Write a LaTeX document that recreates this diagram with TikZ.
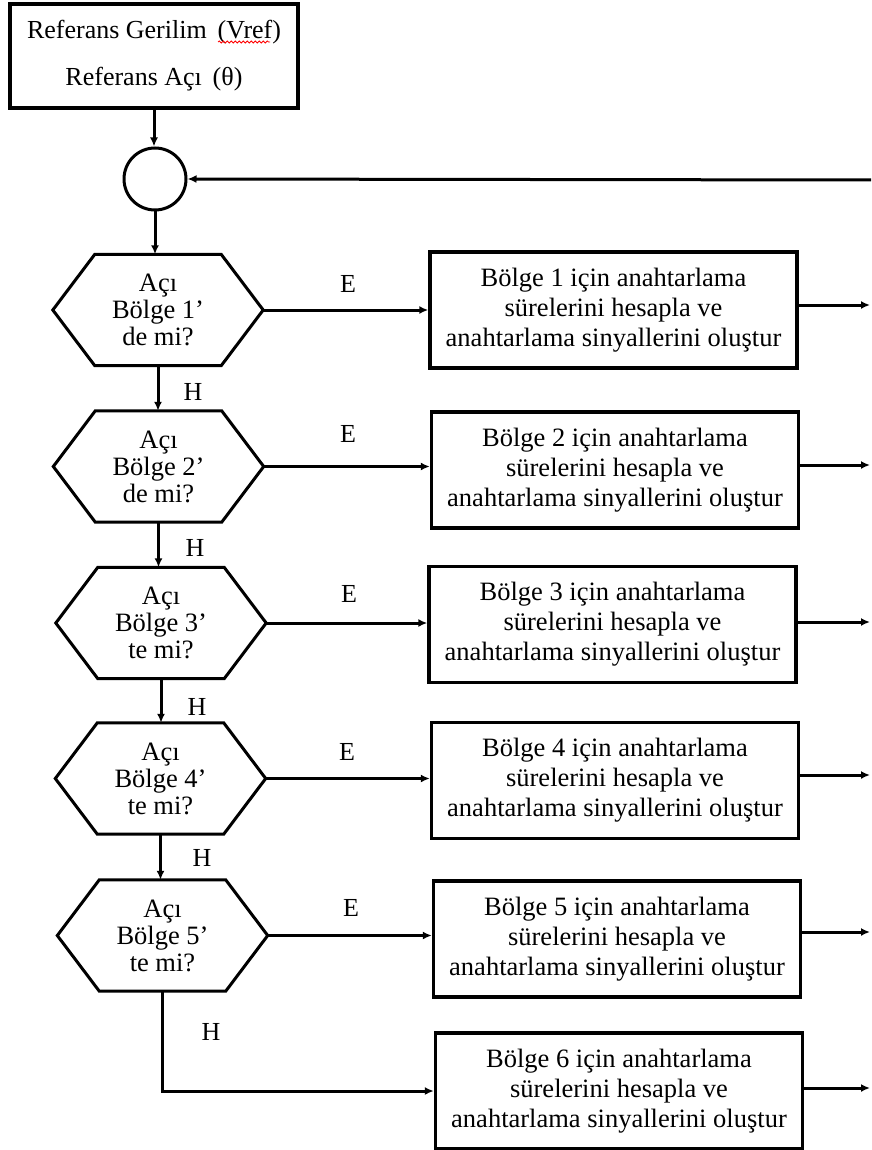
\documentclass[tikz,border=0pt]{standalone}
\usepackage{fontspec}
\setmainfont{Liberation Serif}
\usetikzlibrary{arrows.meta,decorations.pathmorphing}

% outline of a decision hexagon drawn round a named node
\newcommand\hexoutline[1]{%
  \draw[line width=3pt,line join=miter]
    (#1.west) -- ([xshift=42pt]#1.north west) -- ([xshift=-42pt]#1.north east)
    -- (#1.east) -- ([xshift=-42pt]#1.south east) -- ([xshift=42pt]#1.south west) -- cycle;}

\begin{document}
\begin{tikzpicture}[x=1pt,y=-1pt,
  every node/.style={font=\fontsize{26}{30}\selectfont},
  conn/.style={line width=3pt,-{Latex[length=9pt,width=8pt]}},
  stepbox/.style={draw,line width=3.4pt,minimum width=367pt,minimum height=116pt,
                  align=center,inner sep=0pt,font=\fontsize{26.5}{30}\selectfont},
  hexnode/.style={minimum width=210pt,minimum height=111pt,align=center,
                  inner sep=0pt,font=\fontsize{26.5}{27}\selectfont},
  lbl/.style={inner sep=0pt}
]
\useasboundingbox (0,0) rectangle (871,1150);

% reference input and summing junction
\node[draw,line width=3.4pt,minimum width=288pt,minimum height=104pt,align=center,
      font=\fontsize{26}{47}\selectfont] (ref) at (154,56)
      {Referans Gerilim\, (Vref)\\Referans Açı\, (θ)};
\draw[red,line width=0.8pt,decorate,decoration={snake,amplitude=1pt,segment length=4pt}]
  (218,42) -- (270,42);
\node[circle,draw,line width=3pt,minimum size=62pt,inner sep=0pt] (sum) at (155,179) {};
\coordinate (fb) at (871,180);

% decisions
\node[hexnode] (h1) at (158,310)   {Açı\\Bölge 1’\\de mi?};
\node[hexnode] (h2) at (158.5,466.5) {Açı\\Bölge 2’\\de mi?};
\node[hexnode] (h3) at (161,623)   {Açı\\Bölge 3’\\te mi?};
\node[hexnode] (h4) at (160.5,778.5) {Açı\\Bölge 4’\\te mi?};
\node[hexnode] (h5) at (162.5,935.5) {Açı\\Bölge 5’\\te mi?};
\foreach \h in {h1,h2,h3,h4,h5} {\hexoutline{\h}}

% region actions
\node[stepbox] (b1) at (613.5,310) {Bölge 1 için anahtarlama\\sürelerini hesapla ve\\anahtarlama sinyallerini oluştur};
\node[stepbox] (b2) at (615,470)   {Bölge 2 için anahtarlama\\sürelerini hesapla ve\\anahtarlama sinyallerini oluştur};
\node[stepbox] (b3) at (612.5,624.5) {Bölge 3 için anahtarlama\\sürelerini hesapla ve\\anahtarlama sinyallerini oluştur};
\node[stepbox] (b4) at (615,780.5) {Bölge 4 için anahtarlama\\sürelerini hesapla ve\\anahtarlama sinyallerini oluştur};
\node[stepbox] (b5) at (617,939)   {Bölge 5 için anahtarlama\\sürelerini hesapla ve\\anahtarlama sinyallerini oluştur};
\node[stepbox] (b6) at (619,1091)  {Bölge 6 için anahtarlama\\sürelerini hesapla ve\\anahtarlama sinyallerini oluştur};

% outputs leaving to the right
\coordinate (o1) at (870,305);
\coordinate (o2) at (870,465);
\coordinate (o3) at (870,622);
\coordinate (o4) at (870,775);
\coordinate (o5) at (870,932);
\coordinate (o6) at (870,1088);

% connectors
\draw[conn] (ref.south) -- (ref.south |- sum.north);
\draw[conn] (fb) -- (sum.east);
\draw[conn] (sum.south) -- (sum.south |- h1.north);
\draw[conn] (h1.south) -- (h1.south |- h2.north);
\draw[conn] (h2.south) -- (h2.south |- h3.north);
\draw[conn] (h3.south) -- (h3.south |- h4.north);
\draw[conn] (h4.south) -- (h4.south |- h5.north);
\draw[conn] (h5.south) |- (b6.west);
\foreach \i in {1,...,5} {\draw[conn] (h\i.east) -- (h\i.east -| b\i.west);}
\foreach \i in {1,...,6} {\draw[conn] (b\i.east |- o\i) -- (o\i);}

% branch labels
\node[lbl] (e1) at (348,284) {E};
\node[lbl] (e2) at (348,434) {E};
\node[lbl] (e3) at (349,594) {E};
\node[lbl] (e4) at (347,752) {E};
\node[lbl] (e5) at (351,908) {E};
\node[lbl] (n1) at (193,392) {H};
\node[lbl] (n2) at (195,548) {H};
\node[lbl] (n3) at (197,707) {H};
\node[lbl] (n4) at (202,858) {H};
\node[lbl] (n5) at (211,1032) {H};
\end{tikzpicture}
\end{document}
